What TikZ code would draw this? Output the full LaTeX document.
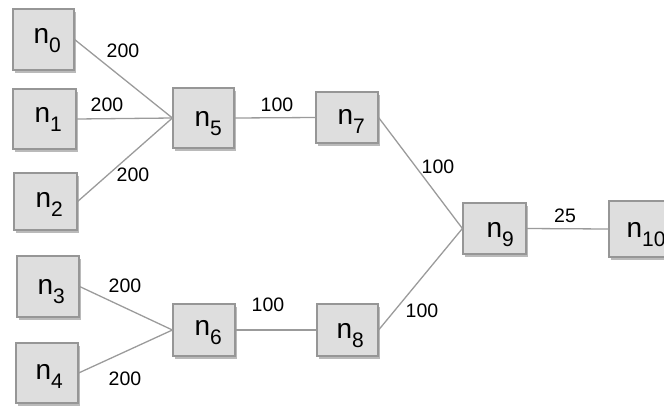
\documentclass[tikz,border=0pt]{standalone}
\usepackage{fontspec}
\setmainfont{Liberation Sans}
\usetikzlibrary{shadows}
\definecolor{boxfill}{RGB}{222,222,222}
\definecolor{boxline}{RGB}{150,150,150}
\definecolor{edgecol}{RGB}{155,155,155}
\newcommand{\nlab}[1]{{\fontsize{28}{28}\selectfont n}\raisebox{-9pt}{\fontsize{21}{21}\selectfont #1}}
\tikzset{
  nbox/.style={draw=boxline, line width=1.2pt, fill=boxfill, inner sep=0pt,
    drop shadow={shadow xshift=1.5pt, shadow yshift=-2.5pt, fill=black!45, opacity=0.6}},
  tlab/.style={anchor=base west, inner sep=0pt, outer sep=0pt},
  conn/.style={draw=edgecol, line width=1.3pt},
  wlab/.style={font=\fontsize{19.5}{20}\selectfont, inner sep=0pt}
}
\begin{document}
\begin{tikzpicture}[x=1pt,y=-1pt]
\useasboundingbox (0,0) rectangle (664,408);
\node[nbox, minimum width=61pt, minimum height=61pt] (n0) at (43.5,39.5) {};
\node[nbox, minimum width=63pt, minimum height=60pt] (n1) at (44.5,119) {};
\node[nbox, minimum width=63pt, minimum height=57pt] (n2) at (45.5,201.5) {};
\node[nbox, minimum width=62pt, minimum height=61pt] (n3) at (48,286.5) {};
\node[nbox, minimum width=62pt, minimum height=60pt] (n4) at (47,373) {};
\node[nbox, minimum width=61pt, minimum height=60pt] (n5) at (203.5,118) {};
\node[nbox, minimum width=62pt, minimum height=52pt] (n6) at (204,330) {};
\node[nbox, minimum width=62pt, minimum height=51pt] (n7) at (347,117.5) {};
\node[nbox, minimum width=61pt, minimum height=52pt] (n8) at (347.5,330) {};
\node[nbox, minimum width=63pt, minimum height=51pt] (n9) at (494.5,228.5) {};
\node[nbox, minimum width=63pt, minimum height=56pt] (n10) at (640.5,229) {};
\path (n0.center) ++(-10,4) node[tlab] (t0) {\nlab{0}};
\path (n1.center) ++(-10,3.5) node[tlab] (t1) {\nlab{1}};
\path (n2.center) ++(-10,5.5) node[tlab] (t2) {\nlab{2}};
\path (n3.center) ++(-10.5,8) node[tlab] (t3) {\nlab{3}};
\path (n4.center) ++(-11.5,6) node[tlab] (t4) {\nlab{4}};
\path (n5.center) ++(-9,8) node[tlab] (t5) {\nlab{5}};
\path (n6.center) ++(-9.5,5.5) node[tlab] (t6) {\nlab{6}};
\path (n7.center) ++(-9.5,6.5) node[tlab] (t7) {\nlab{7}};
\path (n8.center) ++(-11,8) node[tlab] (t8) {\nlab{8}};
\path (n9.center) ++(-8,8.5) node[tlab] (t9) {\nlab{9}};
\path (n10.center) ++(-14,8) node[tlab] (t10) {\nlab{10}};
\draw[conn] (n0.east) -- (n5.west);
\draw[conn] (n1.east) -- (n5.west);
\draw[conn] (n2.east) -- (n5.west);
\draw[conn] (n3.east) -- (n6.west);
\draw[conn] (n4.east) -- (n6.west);
\draw[conn] (n5.east) -- (n7.west);
\draw[conn] (n6.east) -- (n8.west);
\draw[conn] (n7.east) -- (n9.west);
\draw[conn] (n8.east) -- (n9.west);
\draw[conn] (n9.east) -- (n10.west);
\node[wlab] (l05) at (123,51) {200};
\node[wlab] (l15) at (107,105) {200};
\node[wlab] (l25) at (133,175) {200};
\node[wlab] (l36) at (125,286) {200};
\node[wlab] (l46) at (125,379) {200};
\node[wlab] (l57) at (277,105) {100};
\node[wlab] (l68) at (268,305) {100};
\node[wlab] (l79) at (438,167) {100};
\node[wlab] (l89) at (422,311) {100};
\node[wlab] (l910) at (565,216) {25};
\end{tikzpicture}
\end{document}
